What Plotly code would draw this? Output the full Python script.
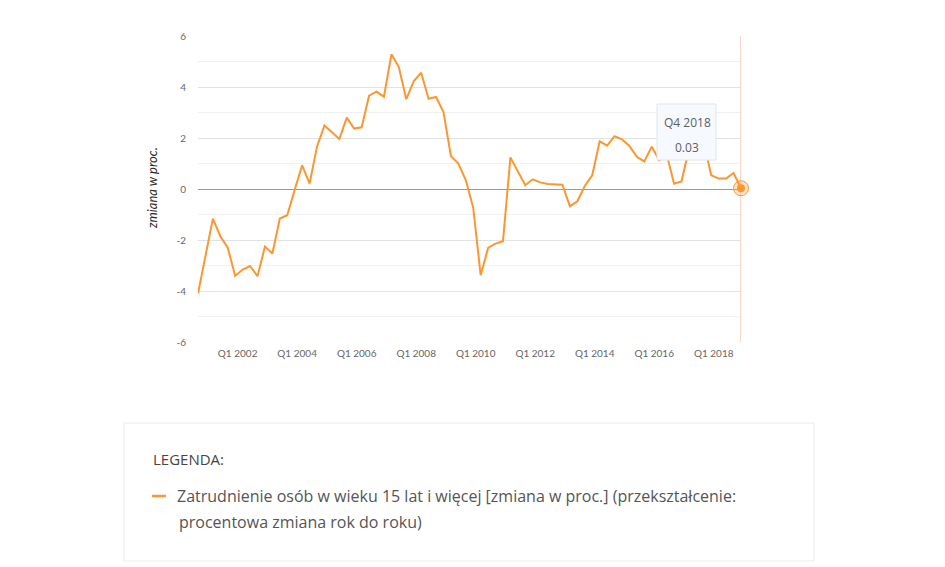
import plotly.graph_objects as go

# year-on-year change, Q3 2000 .. Q4 2018
quarters = [f"Q{q} {y}" for y in range(2000, 2019) for q in range(1, 5)][2:]
values = [
    -4.10, -2.63, -1.16, -1.85, -2.30, -3.41, -3.16, -3.02, -3.42, -2.26,
    -2.53, -1.16, -1.03, -0.03, 0.93, 0.21, 1.66, 2.49, 2.22, 1.96,
    2.80, 2.37, 2.42, 3.66, 3.82, 3.62, 5.28, 4.78, 3.52, 4.22,
    4.56, 3.54, 3.61, 3.02, 1.29, 1.00, 0.35, -0.73, -3.38, -2.31,
    -2.14, -2.05, 1.24, 0.69, 0.15, 0.38, 0.26, 0.20, 0.18, 0.17,
    -0.68, -0.48, 0.12, 0.54, 1.87, 1.70, 2.07, 1.95, 1.69, 1.26,
    1.08, 1.66, 1.13, 1.38, 0.21, 0.30, 1.55, 1.90, 1.80, 0.54,
    0.41, 0.41, 0.63, 0.03,
]
tick_labels = ["Q1 2002", "Q1 2004", "Q1 2006", "Q1 2008", "Q1 2010",
               "Q1 2012", "Q1 2014", "Q1 2016", "Q1 2018"]
y_ticks = [-6, -4, -2, 0, 2, 4, 6]
y_ticktext = ["-6", "-4", "-2", "0", "2", "4", "6"]
series_name = ("Zatrudnienie osób w wieku 15 lat i więcej [zmiana w proc.] "
               "(przekształcenie:")
series_name2 = "procentowa zmiana rok do roku)"

ORANGE = "#fc9630"
TXT_FONT = "Open Sans, sans-serif"
OFF = 8  # page body margin
W, H = 937, 559
L, T = 198 - OFF, 36 - OFF
R, B = W - (741 - OFF), H - (342 - OFF)
PW, PH = W - L - R, H - T - B

# page pixel -> paper coords
def px(x):
    return (x - OFF - L) / PW

def py(y):
    return (H - B - (y - OFF)) / PH

idx = list(range(len(values)))
tick_pos = [quarters.index(t) - 0.67 for t in tick_labels]

fig = go.Figure()
fig.add_trace(go.Scatter(
    x=idx, y=values, mode="lines", text=quarters,
    line=dict(color=ORANGE, width=2), hoverinfo="text+y", showlegend=False,
))
# hovered point with halo
fig.add_trace(go.Scatter(
    x=[idx[-1]], y=[values[-1]], mode="markers", hoverinfo="skip",
    marker=dict(size=15, color="rgba(252,150,48,0.25)",
                line=dict(color=ORANGE, width=1)),
    showlegend=False, cliponaxis=False,
))
fig.add_trace(go.Scatter(
    x=[idx[-1]], y=[values[-1]], mode="markers", hoverinfo="skip",
    marker=dict(size=8, color=ORANGE), showlegend=False, cliponaxis=False,
))

shapes = []
# odd (minor) gridlines
for v in [-5, -3, -1, 1, 3, 5]:
    shapes.append(dict(type="line", xref="paper", yref="y", x0=0, x1=1, y0=v, y1=v,
                       line=dict(color="#f1f1f1", width=1), layer="below"))
# crosshair
shapes.append(dict(type="line", xref="x", yref="paper", x0=idx[-1], x1=idx[-1], y0=0, y1=1,
                   line=dict(color="#f4a890", width=1), layer="below"))
# tooltip box
shapes.append(dict(type="rect", xref="paper", yref="paper",
                   x0=px(657), x1=px(716), y0=py(160), y1=py(104),
                   fillcolor="#f6f9fd", line=dict(color="#dde6f0", width=1), layer="above"))
# legend box
shapes.append(dict(type="rect", xref="paper", yref="paper",
                   x0=px(124), x1=px(814), y0=py(561), y1=py(423),
                   fillcolor="white", line=dict(color="#ececec", width=1)))
# legend swatch
shapes.append(dict(type="line", xref="paper", yref="paper",
                   x0=px(152), x1=px(166), y0=py(496), y1=py(496),
                   line=dict(color=ORANGE, width=2.5)))

annotations = [
    dict(text="<i>zmiana w proc.</i>", xref="paper", yref="paper", x=px(152), y=py(188),
         xanchor="center", yanchor="middle", textangle=-90, showarrow=False,
         font=dict(size=13, color="#2a2a2a")),
    dict(text=quarters[-1], xref="paper", yref="paper", x=px(687), y=py(122),
         xanchor="center", yanchor="middle", showarrow=False,
         font=dict(family=TXT_FONT, size=12, color="#5a5f66")),
    dict(text=f"{values[-1]:.2f}", xref="paper", yref="paper", x=px(687), y=py(147),
         xanchor="center", yanchor="middle", showarrow=False,
         font=dict(family=TXT_FONT, size=12, color="#5a5f66")),
    dict(text="LEGENDA:", xref="paper", yref="paper", x=px(151), y=py(459),
         xanchor="left", yanchor="middle", showarrow=False,
         font=dict(family=TXT_FONT, size=15, color="#454545")),
    dict(text=series_name, xref="paper", yref="paper", x=px(175), y=py(496),
         xanchor="left", yanchor="middle", showarrow=False,
         font=dict(family=TXT_FONT, size=16, color="#555555")),
    dict(text=series_name2, xref="paper", yref="paper", x=px(177), y=py(522),
         xanchor="left", yanchor="middle", showarrow=False,
         font=dict(family=TXT_FONT, size=16, color="#555555")),
]

fig.update_layout(
    width=W, height=H,
    margin=dict(l=L, r=R, t=T, b=B),
    paper_bgcolor="white", plot_bgcolor="white",
    font=dict(family="Lato, sans-serif", color="#666666"),
    shapes=shapes, annotations=annotations,
    hovermode="closest",
)
fig.update_xaxes(
    range=[0, idx[-1]], tickvals=tick_pos, ticktext=tick_labels,
    showgrid=False, zeroline=False, showline=False, ticks="",
    tickfont=dict(size=10, color="#666666"), ticklabelstandoff=4,
)
fig.update_yaxes(
    range=[-6, 6], tickvals=y_ticks, ticktext=y_ticktext,
    showgrid=True, gridcolor="#e2e2e2", gridwidth=1,
    zeroline=True, zerolinecolor="#9a9a9a", zerolinewidth=1, showline=False,
    tickfont=dict(size=10, color="#666666"), ticklabelstandoff=11,
)

fig.write_html("out.html")
